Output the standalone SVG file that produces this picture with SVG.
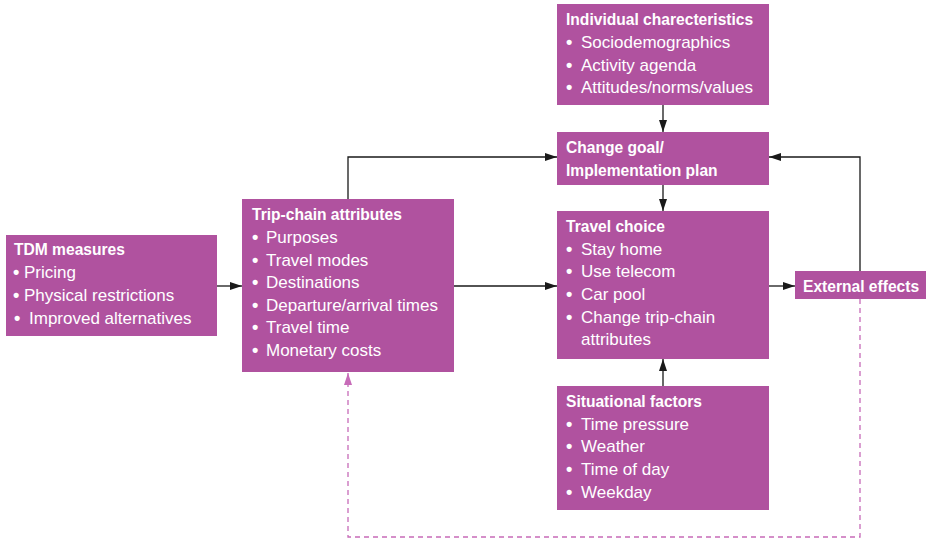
<svg xmlns="http://www.w3.org/2000/svg" width="926" height="539" viewBox="0 0 926 539">
  <style>
    .box { fill: #b0529f; }
    .h { font-family: "Liberation Sans", Arial, sans-serif; font-weight: bold; font-size: 15.6px; fill: #ffffff; }
    .t { font-family: "Liberation Sans", Arial, sans-serif; font-size: 17px; fill: #ffffff; }
    .b { font-family: "Liberation Sans", Arial, sans-serif; font-weight: bold; font-size: 18px; fill: #ffffff; }
    .ln { fill: none; stroke: #1a1a1a; stroke-width: 1.3; }
    .dash { fill: none; stroke: #c76bb8; stroke-width: 1.3; stroke-dasharray: 5 4; }
  </style>
  <defs>
    <marker id="ah" markerWidth="12" markerHeight="8" refX="12" refY="4" orient="auto" markerUnits="userSpaceOnUse">
      <path d="M0,0 L12,4 L0,8 Z" fill="#1a1a1a"/>
    </marker>
    <marker id="ahp" markerWidth="12" markerHeight="8" refX="12" refY="4" orient="auto" markerUnits="userSpaceOnUse">
      <path d="M0,0 L12,4 L0,8 Z" fill="#c76bb8"/>
    </marker>
  </defs>

  <rect width="926" height="539" fill="#ffffff"/>

  <g id="connectors">
    <line class="ln" x1="217" y1="286" x2="242" y2="286" marker-end="url(#ah)"/>
    <line class="ln" x1="454" y1="286" x2="557" y2="286" marker-end="url(#ah)"/>
    <polyline class="ln" points="348,199 348,157 557,157" marker-end="url(#ah)"/>
    <line class="ln" x1="663" y1="105" x2="663" y2="132" marker-end="url(#ah)"/>
    <line class="ln" x1="663" y1="185" x2="663" y2="211" marker-end="url(#ah)"/>
    <line class="ln" x1="663" y1="386" x2="663" y2="359" marker-end="url(#ah)"/>
    <line class="ln" x1="769" y1="286" x2="795" y2="286" marker-end="url(#ah)"/>
    <polyline class="ln" points="860,271 860,157 769,157" marker-end="url(#ah)"/>
    <polyline class="dash" points="860,299 860,537 348,537 348,373" marker-end="url(#ahp)"/>
  </g>

  <g id="tdm">
    <rect class="box" x="6" y="235" width="211" height="101"/>
    <text class="h" x="14" y="255">TDM measures</text>
    <text class="b" x="13" y="278">•</text><text class="t" x="24" y="278">Pricing</text>
    <text class="b" x="13" y="301">•</text><text class="t" x="24" y="301">Physical restrictions</text>
    <text class="b" x="14" y="324">•</text><text class="t" x="29" y="324">Improved alternatives</text>
  </g>

  <g id="trip-chain">
    <rect class="box" x="242" y="199" width="212" height="173"/>
    <text class="h" x="252" y="220">Trip-chain attributes</text>
    <text class="b" x="252" y="243">•</text><text class="t" x="266" y="243">Purposes</text>
    <text class="b" x="252" y="266">•</text><text class="t" x="266" y="266">Travel modes</text>
    <text class="b" x="252" y="288">•</text><text class="t" x="266" y="288">Destinations</text>
    <text class="b" x="252" y="311">•</text><text class="t" x="266" y="311">Departure/arrival times</text>
    <text class="b" x="252" y="333">•</text><text class="t" x="266" y="333">Travel time</text>
    <text class="b" x="252" y="356">•</text><text class="t" x="266" y="356">Monetary costs</text>
  </g>

  <g id="individual">
    <rect class="box" x="557" y="4" width="212" height="101"/>
    <text class="h" x="566" y="25">Individual charecteristics</text>
    <text class="b" x="566" y="48">•</text><text class="t" x="581" y="48">Sociodemographics</text>
    <text class="b" x="566" y="71">•</text><text class="t" x="581" y="71">Activity agenda</text>
    <text class="b" x="566" y="93">•</text><text class="t" x="581" y="93">Attitudes/norms/values</text>
  </g>

  <g id="change-goal">
    <rect class="box" x="557" y="132" width="212" height="53"/>
    <text class="h" x="566" y="153">Change goal/</text>
    <text class="h" x="566" y="176">Implementation plan</text>
  </g>

  <g id="travel-choice">
    <rect class="box" x="557" y="211" width="212" height="148"/>
    <text class="h" x="566" y="232">Travel choice</text>
    <text class="b" x="566" y="255">•</text><text class="t" x="581" y="255">Stay home</text>
    <text class="b" x="566" y="277">•</text><text class="t" x="581" y="277">Use telecom</text>
    <text class="b" x="566" y="300">•</text><text class="t" x="581" y="300">Car pool</text>
    <text class="b" x="566" y="323">•</text><text class="t" x="581" y="323">Change trip-chain</text>
    <text class="t" x="581" y="345">attributes</text>
  </g>

  <g id="external">
    <rect class="box" x="795" y="271" width="131" height="28"/>
    <text class="h" x="803" y="292">External effects</text>
  </g>

  <g id="situational">
    <rect class="box" x="557" y="386" width="212" height="124"/>
    <text class="h" x="566" y="407">Situational factors</text>
    <text class="b" x="566" y="430">•</text><text class="t" x="581" y="430">Time pressure</text>
    <text class="b" x="566" y="452">•</text><text class="t" x="581" y="452">Weather</text>
    <text class="b" x="566" y="475">•</text><text class="t" x="581" y="475">Time of day</text>
    <text class="b" x="566" y="498">•</text><text class="t" x="581" y="498">Weekday</text>
  </g>
</svg>
